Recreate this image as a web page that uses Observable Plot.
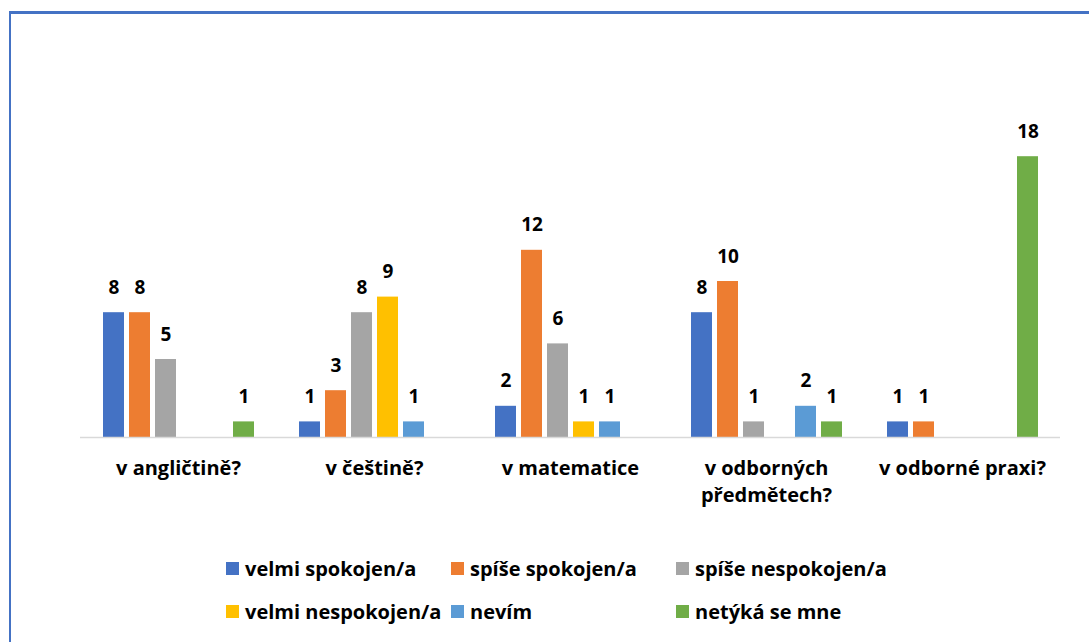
<!DOCTYPE html>
<html><head><meta charset="utf-8">
<script src="https://cdn.jsdelivr.net/npm/d3@7"></script>
<script src="https://cdn.jsdelivr.net/npm/@observablehq/plot@0.6"></script>
<style>
html,body{margin:0;padding:0;width:1089px;height:642px;overflow:hidden;background:#fff;font-family:"Open Sans",Lato,sans-serif;}
#frame{position:absolute;left:9px;top:11px;width:2000px;height:2000px;border-left:2px solid #4472C4;border-top:3px solid #4472C4;box-sizing:border-box;}
#chart{position:absolute;left:0;top:0;}
#legend{position:absolute;left:226px;top:547px;display:grid;grid-template-columns:225px 225px 225px;grid-auto-rows:43px;align-items:center;font-weight:bold;font-size:20px;color:#000;}
.item{display:flex;align-items:center;white-space:nowrap;}
.sw{width:13px;height:13px;margin-right:6px;flex:none;}
</style>
</head><body>
<div id="frame"></div>
<div id="chart"></div>
<div id="legend"></div>
<script>
const categories = ["v angličtině?", "v češtině?", "v matematice", "v odborných předmětech?", "v odborné praxi?"];
const categoryLabels = ["v angličtině?", "v češtině?", "v matematice", "v odborných\npředmětech?", "v odborné praxi?"];
const series = ["velmi spokojen/a", "spíše spokojen/a", "spíše nespokojen/a", "velmi nespokojen/a", "nevím", "netýká se mne"];
const colors = ["#4472C4", "#ED7D31", "#A5A5A5", "#FFC000", "#5B9BD5", "#70AD47"];
const velmiSpokojen   = [8, 1, 2, 8, 1];
const spiseSpokojen   = [8, 3, 12, 10, 1];
const spiseNespokojen = [5, 8, 6, 1, 0];
const velmiNespokojen = [0, 9, 1, 0, 0];
const nevim           = [0, 1, 1, 2, 0];
const netyka          = [1, 0, 0, 1, 18];
const seriesValues = [velmiSpokojen, spiseSpokojen, spiseNespokojen, velmiNespokojen, nevim, netyka];

const data = [];
categories.forEach((c, i) => series.forEach((s, j) => data.push({category: c, series: s, value: seriesValues[j][i]})));
const shown = data.filter(d => d.value > 0);

const chart = Plot.plot({
  width: 1089,
  height: 530,
  marginTop: 125,
  marginBottom: 93,
  marginLeft: 80,
  marginRight: 29,
  style: {fontFamily: "'Open Sans', Lato, sans-serif", fontWeight: "bold", fontSize: "19px", color: "#000", background: "transparent"},
  fx: {domain: categories, paddingInner: 0, paddingOuter: 0, label: null},
  x: {domain: series, paddingInner: 0.21, paddingOuter: 0.75, axis: null},
  y: {domain: [0, 20], axis: null},
  color: {domain: series, range: colors},
  marks: [
    Plot.axisFx({anchor: "bottom", tickSize: 0, tickPadding: 18, lineAnchor: "top", lineHeight: 1.35, fontSize: 20, fontWeight: "bold", fill: "#000",
      tickFormat: c => categoryLabels[categories.indexOf(c)], label: null}),
    Plot.barY(data, {fx: "category", x: "series", y: "value", fill: "series"}),
    Plot.ruleY([0], {stroke: "#D9D9D9", strokeWidth: 1.5}),
    Plot.text(shown, {fx: "category", x: "series", y: "value", text: d => String(d.value), dy: -25, fontSize: 19, fontWeight: "bold", fill: "#000"})
  ]
});
document.getElementById("chart").appendChild(chart);

const legend = document.getElementById("legend");
series.forEach((s, j) => {
  const it = document.createElement("div");
  it.className = "item";
  it.innerHTML = `<span class="sw" style="background:${colors[j]}"></span><span>${s}</span>`;
  legend.appendChild(it);
});
</script>
</body></html>
